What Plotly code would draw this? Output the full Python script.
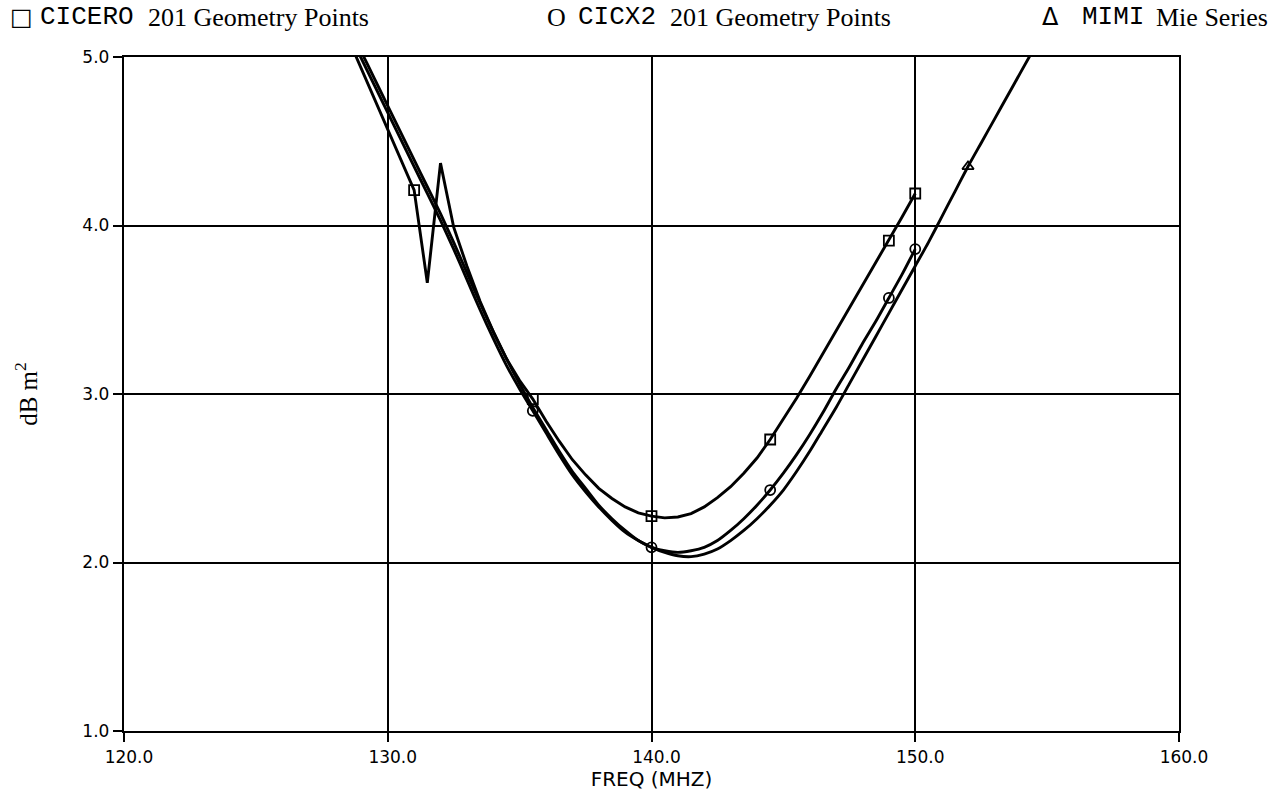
import plotly.graph_objects as go

# ---- data ----
freq_cicero = [128.5, 129.0, 129.5, 130.0, 130.5, 131.0, 131.5, 132.0, 132.5, 133.0,
               133.5, 134.0, 134.5, 135.0, 135.5, 136.0, 136.5, 137.0, 137.5, 138.0,
               138.5, 139.0, 139.5, 140.0, 140.5, 141.0, 141.5, 142.0, 142.5, 143.0,
               143.5, 144.0, 144.5, 145.0, 145.5, 146.0, 146.5, 147.0, 147.5, 148.0,
               148.5, 149.0, 149.5, 150.0]
rcs_cicero = [5.11, 4.93, 4.76, 4.58, 4.40, 4.21, 3.66, 4.37, 3.99, 3.76,
              3.55, 3.37, 3.21, 3.08, 2.97, 2.84, 2.72, 2.61, 2.52, 2.44,
              2.38, 2.33, 2.295, 2.275, 2.265, 2.27, 2.29, 2.33, 2.385, 2.45,
              2.53, 2.62, 2.73, 2.85, 2.975, 3.105, 3.24, 3.375, 3.51, 3.645,
              3.78, 3.91, 4.05, 4.19]

freq_cicx2 = list(freq_cicero)
rcs_cicx2 = [5.15, 4.99, 4.83, 4.67, 4.51, 4.35, 4.19, 4.03, 3.86, 3.68,
             3.50, 3.33, 3.17, 3.03, 2.90, 2.77, 2.64, 2.52, 2.42, 2.33,
             2.25, 2.18, 2.13, 2.09, 2.07, 2.06, 2.07, 2.09, 2.13, 2.19,
             2.26, 2.34, 2.43, 2.53, 2.64, 2.76, 2.89, 3.03, 3.16, 3.30,
             3.43, 3.57, 3.71, 3.86]

freq_mimi = [128.5, 129.0, 129.5, 130.0, 130.5, 131.0, 131.5, 132.0, 132.5, 133.0,
             133.5, 134.0, 134.5, 135.0, 135.5, 136.0, 136.5, 137.0, 137.5, 138.0,
             138.5, 139.0, 139.5, 140.0, 140.5, 141.0, 141.5, 142.0, 142.5, 143.0,
             143.5, 144.0, 144.5, 145.0, 145.5, 146.0, 146.5, 147.0, 147.5, 148.0,
             148.5, 149.0, 149.5, 150.0, 150.5, 151.0, 151.5, 152.0, 152.5, 153.0,
             153.5, 154.0, 154.5]
rcs_mimi = [5.18, 5.03, 4.87, 4.71, 4.55, 4.39, 4.23, 4.07, 3.90, 3.72,
            3.54, 3.37, 3.21, 3.06, 2.92, 2.79, 2.66, 2.54, 2.44, 2.34,
            2.26, 2.19, 2.13, 2.09, 2.06, 2.04, 2.035, 2.05, 2.08, 2.13,
            2.19, 2.26, 2.34, 2.43, 2.54, 2.66, 2.79, 2.92, 3.06, 3.20,
            3.34, 3.48, 3.62, 3.76, 3.90, 4.05, 4.20, 4.35, 4.49, 4.63,
            4.77, 4.91, 5.05]

marks_cicero = [131.0, 135.5, 140.0, 144.5, 149.0, 150.0]
marks_cicx2 = [135.5, 140.0, 144.5, 149.0, 150.0]
marks_mimi = [152.0]

x_ticks = [120, 130, 140, 150, 160]
x_tick_labels = ["120.0", "130.0", "140.0", "150.0", "160.0"]
y_ticks = [1, 2, 3, 4, 5]
y_tick_labels = ["1.0", "2.0", "3.0", "4.0", "5.0"]

# legend pieces: (left pixel, text, kind)
legend_pieces = [
    (8, "□", "sym"), (38, "CICERO", "mono"), (146, "201 Geometry Points", "serif"),
    (545, "O", "serif"), (576, "CICX2", "mono"), (668, "201 Geometry Points", "serif"),
    (1040, "Δ", "sym"), (1080, "MIMI", "mono"), (1154, "Mie Series", "serif"),
]

# ---- figure ----
W, H = 1281, 799
L, R, T, B = 124, 102, 57, 66
fig = go.Figure()
LW = 2.9
fig.add_trace(go.Scatter(x=freq_mimi, y=rcs_mimi, mode="lines", line_shape="spline",
                         line=dict(color="black", width=LW, smoothing=0.6),
                         showlegend=False, hoverinfo="skip"))
fig.add_trace(go.Scatter(x=freq_cicx2, y=rcs_cicx2, mode="lines", line_shape="spline",
                         line=dict(color="black", width=LW, smoothing=0.6),
                         showlegend=False, hoverinfo="skip"))
fig.add_trace(go.Scatter(x=freq_cicero, y=rcs_cicero, mode="lines",
                         line=dict(color="black", width=LW),
                         showlegend=False, hoverinfo="skip"))


def mk(freqs, series_x, series_y, symbol):
    lut = dict(zip(series_x, series_y))
    fig.add_trace(go.Scatter(x=freqs, y=[lut[f] for f in freqs], mode="markers",
                             marker=dict(symbol=symbol, size=10, color="black",
                                         line=dict(color="black", width=1.8)),
                             showlegend=False, cliponaxis=False))


mk(marks_cicero, freq_cicero, rcs_cicero, "square-open")
mk(marks_cicx2, freq_cicx2, rcs_cicx2, "circle-open")
mk(marks_mimi, freq_mimi, rcs_mimi, "triangle-up-open")

axis_common = dict(showgrid=True, gridcolor="black", gridwidth=1.7,
                   showline=True, linecolor="black", linewidth=2.4, mirror=True,
                   ticks="outside", ticklen=9, tickwidth=2, tickcolor="black",
                   zeroline=False,
                   tickfont=dict(family="DejaVu Sans", size=17, color="black"))

fig.update_xaxes(range=[120, 160], tickvals=x_ticks, ticktext=x_tick_labels,
                 ticklabelshift=5,
                 title=dict(text="FREQ (MHZ)", font=dict(family="DejaVu Sans", size=20, color="black"),
                            standoff=6),
                 **axis_common)
fig.update_yaxes(range=[1, 5], tickvals=y_ticks, ticktext=y_tick_labels,
                 title=dict(text="dB m<sup>2</sup>", font=dict(family="Liberation Serif", size=25, color="black"),
                            standoff=38),
                 **axis_common)

fonts = {
    "sym": dict(family="DejaVu Sans", size=24, color="black"),
    "mono": dict(family="Liberation Mono", size=26, color="black"),
    "serif": dict(family="Liberation Serif", size=26, color="black"),
}
pw, ph = W - L - R, H - T - B
for xpix, txt, kind in legend_pieces:
    fig.add_annotation(x=(xpix - L) / pw, y=1 + (T - 17) / ph, xref="paper", yref="paper",
                       xanchor="left", yanchor="middle", showarrow=False, text=txt,
                       font=fonts[kind])

fig.update_layout(width=W, height=H,
                  margin=dict(l=L, r=R, t=T, b=B),
                  paper_bgcolor="white", plot_bgcolor="white")

fig.write_html("out.html")
